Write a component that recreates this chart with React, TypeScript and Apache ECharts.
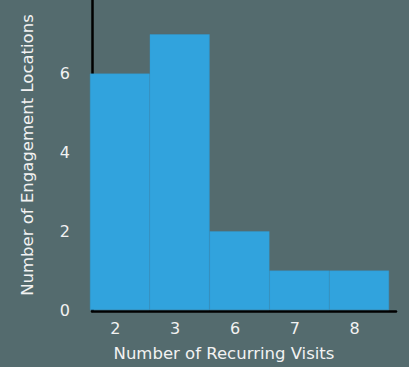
import React, { useEffect, useRef } from "react";
import * as echarts from "echarts";

const categories = ["2", "3", "6", "7", "8"];
const counts = [6, 7, 2, 1, 1];
const yTicks = [0, 2, 4, 6, 8];

const BG = "#546b6e";
const BAR = "#31a3dd";
const TXT = "#f2f2f2";
const FONT = "DejaVu Sans";

export default function App() {
  const ref = useRef<HTMLDivElement>(null);
  useEffect(() => {
    if (!ref.current) return;
    const chart = echarts.init(ref.current, undefined, { renderer: "svg" });
    chart.setOption({
      animation: false,
      backgroundColor: BG,
      textStyle: { fontFamily: FONT },
      grid: [
        { left: 90, right: 20, top: 0, bottom: 56, containLabel: false },
        { left: 92, right: 13, top: 0, bottom: 56, containLabel: false },
      ],
      xAxis: [
        {
          type: "category",
          gridIndex: 0,
          data: categories,
          axisLine: { show: false },
          axisTick: { show: false },
          axisLabel: { color: TXT, fontSize: 16, fontFamily: FONT, margin: 10, padding: [0, 9, 0, 0] },
          name: "Number of Recurring Visits",
          nameLocation: "middle",
          nameGap: 35,
          nameTextStyle: { color: TXT, fontSize: 16.5, fontFamily: FONT, padding: [0, 31, 0, 0] },
        },
        {
          type: "value",
          gridIndex: 1,
          min: 0,
          max: 1,
          axisLine: { show: true, onZero: false, lineStyle: { color: "#000", width: 2.5 } },
          axisTick: { show: false },
          axisLabel: { show: false },
          splitLine: { show: false },
        },
      ],
      yAxis: [
        {
          type: "value",
          gridIndex: 0,
          min: 0,
          max: 7.87,
          interval: 2,
          axisLine: { show: false },
          axisTick: { show: false },
          splitLine: { show: false },
          axisLabel: {
            color: TXT,
            fontSize: 16,
            fontFamily: FONT,
            margin: 20,
            formatter: (v: number) => (yTicks.includes(v) ? String(v) : ""),
          },
          name: "Number of Engagement Locations",
          nameLocation: "middle",
          nameGap: 54,
          nameTextStyle: { color: TXT, fontSize: 16.5, fontFamily: FONT },
        },
        {
          type: "value",
          gridIndex: 1,
          min: 0,
          max: 1,
          axisLine: { show: true, onZero: false, lineStyle: { color: "#000", width: 2.5 } },
          axisTick: { show: false },
          axisLabel: { show: false },
          splitLine: { show: false },
        },
      ],
      series: [
        {
          type: "bar",
          xAxisIndex: 0,
          yAxisIndex: 0,
          data: counts,
          barWidth: "100%",
          itemStyle: { color: BAR, borderColor: "#2e9bd3", borderWidth: 0.4 },
          z: 1,
        },
      ],
    });
    return () => chart.dispose();
  }, []);
  return <div ref={ref} style={{ width: 409, height: 367, position: "fixed", left: 0, top: 0 }} />;
}
